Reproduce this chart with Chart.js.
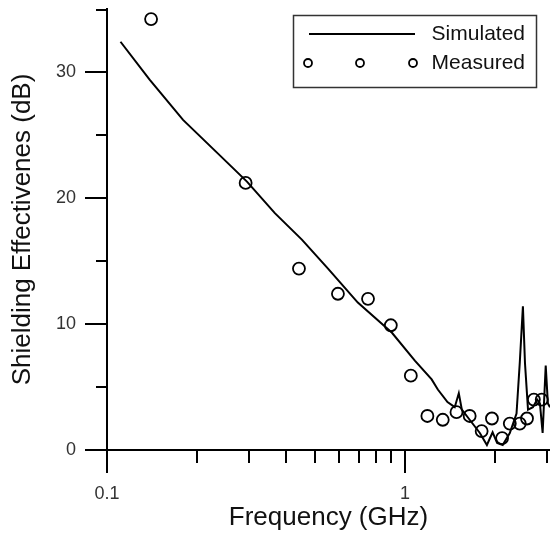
<!DOCTYPE html>
<html>
<head>
<meta charset="utf-8">
<script src="https://cdn.jsdelivr.net/npm/chart.js@4"></script>
<style>
  html, body { margin: 0; padding: 0; background: #fff; }
  #chart { display: block; }
</style>
</head>
<body>
<canvas id="chart" width="550" height="540"></canvas>
<script>
// simulated curve (GHz, dB)
const simFreq = [0.111, 0.139, 0.180, 0.234, 0.295, 0.366, 0.451, 0.552, 0.695, 0.905, 1.08, 1.23, 1.29, 1.39, 1.47, 1.517, 1.553, 1.65, 1.785, 1.885, 1.97, 2.04, 2.13, 2.25, 2.37, 2.43, 2.49, 2.53, 2.59, 2.69, 2.78, 2.84, 2.90, 2.97, 3.02, 3.07];
const simSE   = [32.4, 29.4, 26.2, 23.6, 21.3, 18.8, 16.7, 14.4, 11.7, 9.3, 7.1, 5.6, 4.8, 3.8, 3.4, 4.5, 3.2, 2.4, 1.35, 0.4, 1.4, 0.55, 0.4, 1.35, 2.9, 6.9, 11.4, 6.9, 3.2, 3.4, 4.0, 3.7, 1.35, 6.7, 3.7, 3.4];

// measured points
const measFreq = [0.1406, 0.292, 0.441, 0.596, 0.752, 0.897, 1.047, 1.19, 1.34, 1.49, 1.65, 1.81, 1.96, 2.12, 2.25, 2.43, 2.57, 2.71, 2.88];
const measSE   = [34.2, 21.2, 14.4, 12.4, 12.0, 9.9, 5.9, 2.7, 2.4, 3.0, 2.7, 1.5, 2.5, 0.95, 2.1, 2.1, 2.5, 4.0, 4.0];

// axis ticks
const xTickVals = [0.1, 0.2, 0.3, 0.4, 0.5, 0.6, 0.7, 0.8, 0.9, 1, 2, 3];
const xTickLabels = {0.1: '0.1', 1: '1'};
const yTickVals = [0, 5, 10, 15, 20, 25, 30, 35];
const yTickLabels = {0: '0', 10: '10', 20: '20', 30: '30'};

const FONT = '"Liberation Sans", Arial, sans-serif';

// tick marks drawn outside the axes, long for labelled ticks
const tickMarks = {
  id: 'tickMarks',
  afterDraw(c) {
    const {ctx, chartArea, scales} = c;
    ctx.save();
    ctx.strokeStyle = '#000';
    ctx.lineWidth = 2;
    ctx.beginPath();
    xTickVals.forEach(v => {
      const px = Math.min(Math.round(scales.x.getPixelForValue(v)), chartArea.right - 1);
      const len = xTickLabels[v] ? 23 : 13;
      ctx.moveTo(px, chartArea.bottom);
      ctx.lineTo(px, chartArea.bottom + len);
    });
    yTickVals.forEach(v => {
      const py = Math.max(Math.round(scales.y.getPixelForValue(v)), chartArea.top + 1);
      const len = yTickLabels[v] ? 22 : 11;
      ctx.moveTo(chartArea.left - len, py);
      ctx.lineTo(chartArea.left, py);
    });
    ctx.stroke();
    ctx.restore();
  }
};

// boxed legend in the upper right
const boxLegend = {
  id: 'boxLegend',
  afterDraw(c) {
    const ctx = c.ctx;
    ctx.save();
    ctx.strokeStyle = '#333';
    ctx.lineWidth = 1.5;
    ctx.strokeRect(293.5, 15.5, 243, 72);
    ctx.strokeStyle = '#000';
    ctx.lineWidth = 2;
    ctx.beginPath();
    ctx.moveTo(309, 34);
    ctx.lineTo(415, 34);
    ctx.stroke();
    ctx.lineWidth = 1.8;
    [308, 360, 413].forEach(cx => {
      ctx.beginPath();
      ctx.arc(cx, 63, 4, 0, Math.PI * 2);
      ctx.stroke();
    });
    ctx.fillStyle = '#111';
    ctx.font = '21px ' + FONT;
    ctx.textAlign = 'right';
    ctx.textBaseline = 'middle';
    ctx.fillText(c.data.datasets[0].label, 525, 34);
    ctx.fillText(c.data.datasets[1].label, 525, 63);
    ctx.restore();
  }
};

new Chart(document.getElementById('chart'), {
  type: 'line',
  data: {
    datasets: [{
      label: 'Simulated',
      data: simFreq.map((f, i) => ({x: f, y: simSE[i]})),
      borderColor: '#000',
      borderWidth: 2,
      pointRadius: 0,
      tension: 0,
      fill: false
    }, {
      label: 'Measured',
      data: measFreq.map((f, i) => ({x: f, y: measSE[i]})),
      showLine: false,
      borderColor: '#000',
      backgroundColor: 'rgba(0,0,0,0)',
      pointStyle: 'circle',
      pointRadius: 6,
      pointBorderWidth: 1.8
    }]
  },
  options: {
    responsive: false,
    animation: false,
    layout: { autoPadding: false, padding: { top: 9, right: 0, left: 0, bottom: 0 } },
    plugins: { legend: { display: false }, tooltip: { enabled: false } },
    scales: {
      x: {
        type: 'logarithmic',
        min: 0.1,
        max: 3.07,
        grid: { display: false, drawTicks: false },
        border: { display: true, color: '#000', width: 2 },
        afterBuildTicks: s => { s.ticks = xTickVals.map(v => ({value: v})); },
        afterFit: s => { s.height = 90; s.paddingLeft = 0; s.paddingRight = 0; },
        ticks: {
          autoSkip: false,
          maxRotation: 0,
          padding: 33,
          color: '#333',
          font: { family: FONT, size: 18 },
          callback: v => xTickLabels[v] || ''
        },
        title: {
          display: true,
          text: 'Frequency (GHz)',
          color: '#111',
          font: { family: FONT, size: 26 },
          padding: { top: 0, bottom: 7 }
        }
      },
      y: {
        min: 0,
        max: 35,
        grid: { display: false, drawTicks: false },
        border: { display: true, color: '#000', width: 2 },
        afterBuildTicks: s => { s.ticks = yTickVals.map(v => ({value: v})); },
        afterFit: s => { s.width = 107; s.paddingTop = 0; s.paddingBottom = 0; },
        ticks: {
          autoSkip: false,
          padding: 31,
          color: '#333',
          font: { family: FONT, size: 18 },
          callback: v => yTickLabels[v] || ''
        },
        title: {
          display: true,
          text: 'Shielding Effectivenes (dB)',
          color: '#111',
          font: { family: FONT, size: 26 },
          padding: { top: 7, bottom: 0 }
        }
      }
    }
  },
  plugins: [tickMarks, boxLegend]
});
</script>
</body>
</html>
